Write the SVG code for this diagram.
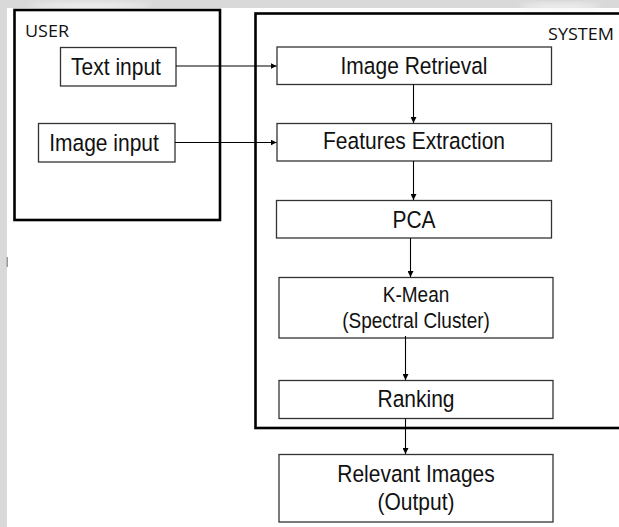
<svg xmlns="http://www.w3.org/2000/svg" width="619" height="527" viewBox="0 0 619 527">
  <defs>
    <marker id="arrow" viewBox="0 0 8 8" refX="8" refY="4" markerWidth="6" markerHeight="6" markerUnits="userSpaceOnUse" orient="auto">
      <path d="M0,0 L8,4 L0,8 z" fill="#000"/>
    </marker>
    <filter id="soft" x="-50%" y="-50%" width="200%" height="200%">
      <feGaussianBlur stdDeviation="3"/>
    </filter>
  </defs>
  <style>
    .frame { fill: none; stroke: #000; stroke-width: 2.6; }
    .box { fill: #fff; stroke: #333; stroke-width: 1.3; }
    .lbl { font-family: "Liberation Sans", Arial, sans-serif; font-size: 21px; fill: #111; text-anchor: middle; }
    .sm { font-size: 19px; }
    .title { font-family: "Open Sans", "Liberation Sans", sans-serif; font-size: 16px; fill: #111; }
    .edge { fill: none; stroke: #000; stroke-width: 1.1; marker-end: url(#arrow); }
  </style>

  <!-- page background -->
  <rect x="0" y="0" width="619" height="527" fill="#fff"/>
  <rect x="0" y="0" width="619" height="8" fill="#d9d9d9"/>
  <rect x="0" y="0" width="7" height="527" fill="#d9d9d9"/>
  <ellipse cx="90" cy="6" rx="60" ry="3" fill="#f4f4f4" filter="url(#soft)"/>
  <ellipse cx="560" cy="7" rx="40" ry="3" fill="#f4f4f4" filter="url(#soft)"/>
  <rect x="6.5" y="257" width="1.5" height="10" fill="#999"/>

  <!-- containers -->
  <g id="user">
    <rect class="frame" x="14.5" y="10" width="205.5" height="210"/>
    <text class="title" x="25" y="36.5" textLength="44" lengthAdjust="spacingAndGlyphs">USER</text>
  </g>
  <g id="system">
    <rect class="frame" x="255.5" y="13.5" width="370" height="414.5"/>
    <text class="title" x="548" y="39.5" textLength="66" lengthAdjust="spacingAndGlyphs">SYSTEM</text>
  </g>

  <!-- inputs (labels are drawn slightly tall: scale 1 x 1.18) -->
  <g id="text-input">
    <rect class="box" x="60.5" y="47.5" width="115.5" height="38.5"/>
    <text class="lbl" transform="translate(116,74.5) scale(1,1.18)">Text input</text>
  </g>
  <g id="image-input">
    <rect class="box" x="38.5" y="123.5" width="136.5" height="38.5"/>
    <text class="lbl" transform="translate(104,150.5) scale(1,1.18)">Image input</text>
  </g>

  <!-- pipeline -->
  <g id="image-retrieval">
    <rect class="box" x="277" y="47" width="274.5" height="37.5"/>
    <text class="lbl" transform="translate(414,73.5) scale(1,1.18)">Image Retrieval</text>
  </g>
  <g id="features-extraction">
    <rect class="box" x="277" y="123.5" width="274.5" height="37.5"/>
    <text class="lbl" transform="translate(414,149) scale(1,1.18)">Features Extraction</text>
  </g>
  <g id="pca">
    <rect class="box" x="276.5" y="200.5" width="275" height="37.5"/>
    <text class="lbl" transform="translate(414,228) scale(1,1.18)">PCA</text>
  </g>
  <g id="k-mean">
    <rect class="box" x="279" y="277.5" width="274" height="60.5"/>
    <text class="lbl sm" transform="translate(416,301.5) scale(1,1.2)">K-Mean</text>
    <text class="lbl sm" transform="translate(416,328) scale(1,1.2)">(Spectral Cluster)</text>
  </g>
  <g id="ranking">
    <rect class="box" x="279" y="380.5" width="274" height="38"/>
    <text class="lbl" transform="translate(416,406.5) scale(1,1.18)">Ranking</text>
  </g>
  <g id="relevant-images">
    <rect class="box" x="279" y="454.5" width="274" height="67.5"/>
    <text class="lbl" transform="translate(416,481.5) scale(1,1.18)">Relevant Images</text>
    <text class="lbl" transform="translate(416,510) scale(1,1.18)">(Output)</text>
  </g>

  <!-- connectors -->
  <g id="connectors">
    <path class="edge" d="M176,66 H276.5"/>
    <path class="edge" d="M175,142.5 H276.5"/>
    <path class="edge" d="M413.5,84.5 V123"/>
    <path class="edge" d="M413.5,161 V200"/>
    <path class="edge" d="M410.5,238 V277"/>
    <path class="edge" d="M405.5,336 V380"/>
    <path class="edge" d="M405.5,418.5 V454"/>
  </g>
</svg>
